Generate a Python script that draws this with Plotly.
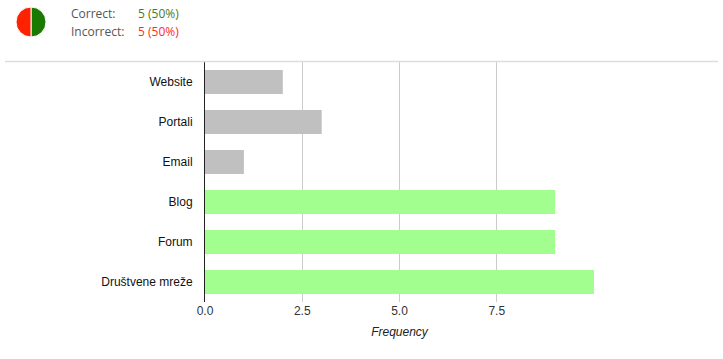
import plotly.graph_objects as go

categories = ["Website", "Portali", "Email", "Blog", "Forum", "Društvene mreže"]
values = [2, 3, 1, 9, 9, 10]
correct_flags = [False, False, False, True, True, True]
tick_vals = [0, 2.5, 5, 7.5, 10]
tick_text = ["0.0", "2.5", "5.0", "7.5", ""]
pie_labels = ["Correct", "Incorrect"]
pie_values = [5, 5]

W, H = 723, 359
x0, x1 = 205, 594
y_top, y_bot = 62, 302

bar_colors = ["#a2ff8f" if c else "#c0c0c0" for c in correct_flags]

fig = go.Figure()
fig.add_trace(go.Bar(
    x=values, y=categories, orientation="h",
    marker=dict(color=bar_colors, line=dict(width=0)),
    hoverinfo="x+y", showlegend=False,
))

cx, cy, r = 31, 22, 15
fig.add_trace(go.Pie(
    labels=pie_labels, values=pie_values, sort=False, direction="clockwise", rotation=0,
    marker=dict(colors=["#1a7a00", "#ff2200"], line=dict(color="white", width=1)),
    textinfo="none", hoverinfo="label+value", showlegend=False,
    domain=dict(x=[(cx - r) / W, (cx + r) / W], y=[(H - cy - r) / H, (H - cy + r) / H]),
))

fig.update_layout(
    width=W, height=H,
    margin=dict(l=0, r=0, t=0, b=0, autoexpand=False),
    paper_bgcolor="white", plot_bgcolor="white",
    bargap=0.4,
    font=dict(family="Liberation Sans, Arial, sans-serif", size=12, color="#222"),
    xaxis=dict(
        domain=[x0 / W, x1 / W], range=[0, 10], tickvals=tick_vals, ticktext=tick_text,
        showgrid=True, gridcolor="#cccccc", gridwidth=1, zeroline=False, showline=False,
        ticks="", tickfont=dict(size=12, color="#333"), automargin=False,
        title=dict(text="<i>Frequency</i>", font=dict(size=12, color="#222"), standoff=10),
        fixedrange=True,
    ),
    yaxis=dict(
        domain=[(H - y_bot) / H, (H - y_top) / H],
        categoryorder="array", categoryarray=categories[::-1],
        showgrid=False, zeroline=False, showline=True, linecolor="#222", linewidth=1,
        ticks="", ticklabelstandoff=9, tickfont=dict(size=12, color="#111"), automargin=False,
        fixedrange=True,
    ),
    shapes=[dict(type="line", xref="paper", yref="paper",
                 x0=5 / W, x1=718 / W, y0=(H - 61.5) / H, y1=(H - 61.5) / H,
                 line=dict(color="#dddddd", width=1.5))],
    annotations=[
        dict(text="Correct:", x=69 / W, y=(H - 13) / H, xref="paper", yref="paper",
             xanchor="left", yanchor="middle", showarrow=False,
             font=dict(family="Open Sans, sans-serif", size=12, color="#555")),
        dict(text="5 (50%)", x=136 / W, y=(H - 13) / H, xref="paper", yref="paper",
             xanchor="left", yanchor="middle", showarrow=False,
             font=dict(family="Open Sans, sans-serif", size=12, color="#4a7a1a")),
        dict(text="Incorrect:", x=69 / W, y=(H - 31) / H, xref="paper", yref="paper",
             xanchor="left", yanchor="middle", showarrow=False,
             font=dict(family="Open Sans, sans-serif", size=12, color="#555")),
        dict(text="5 (50%)", x=136 / W, y=(H - 31) / H, xref="paper", yref="paper",
             xanchor="left", yanchor="middle", showarrow=False,
             font=dict(family="Open Sans, sans-serif", size=12, color="#ff2a1a")),
    ],
)

fig.write_html(
    "out.html",
    config={"displayModeBar": False},
    post_script="document.body.style.margin='0';document.body.style.overflow='hidden';",
)
